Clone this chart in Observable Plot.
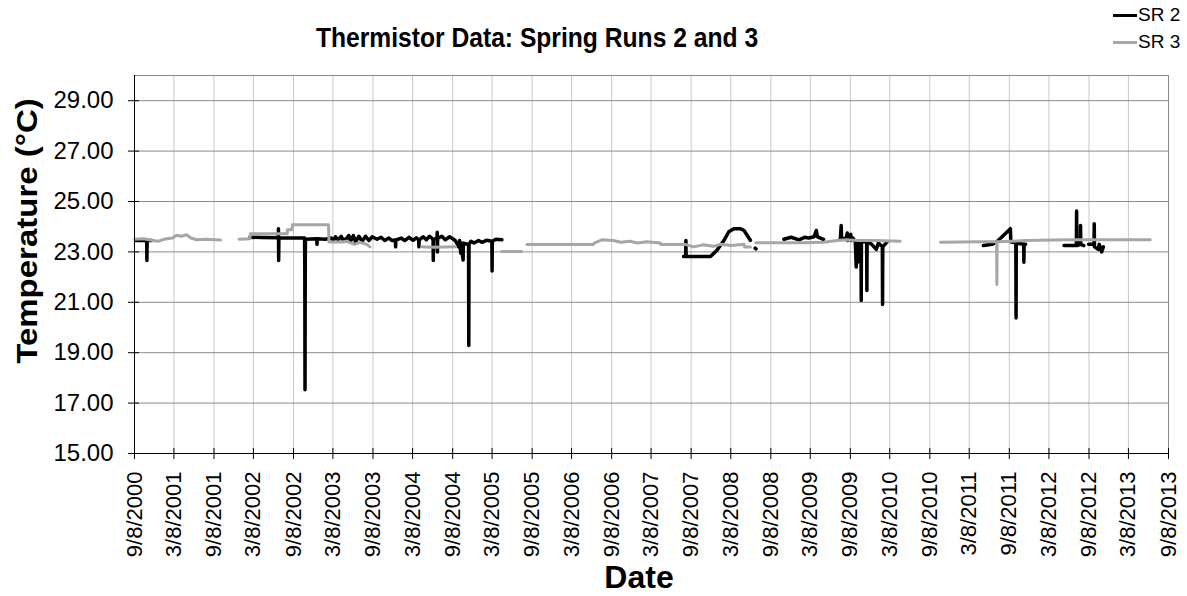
<!DOCTYPE html>
<html><head><meta charset="utf-8">
<script src="https://cdn.jsdelivr.net/npm/d3@7"></script>
<script src="https://cdn.jsdelivr.net/npm/@observablehq/plot@0.6"></script>
<style>
body{margin:0;background:#fff;font-family:"Liberation Sans",Arial,sans-serif;}
#wrap{position:relative;width:1187px;height:596px;overflow:hidden;background:#fff;}
#chart{position:absolute;left:0;top:0;}
#title{position:absolute;left:537px;top:38px;transform:translate(-50%,-50%) scaleX(0.88);font-weight:bold;font-size:28px;line-height:28px;color:#000;white-space:nowrap;}
.leg{position:absolute;left:1113px;height:20px;font-size:19px;line-height:20px;color:#000;white-space:nowrap;}
.leg span{display:inline-block;width:24px;height:3px;vertical-align:middle;margin-right:1px;}
#ylab{position:absolute;left:27px;top:231px;transform:translate(-50%,-50%) rotate(-90deg) scaleX(1.1);font-weight:bold;font-size:30px;white-space:nowrap;line-height:30px;}
#xlab{position:absolute;left:639px;top:577px;transform:translate(-50%,-50%);font-weight:bold;font-size:32px;white-space:nowrap;line-height:32px;}
</style></head>
<body>
<div id="wrap">
<div id="chart"></div>
<div id="title">Thermistor Data: Spring Runs 2 and 3</div>
<div class="leg" style="top:5px"><span style="background:#000"></span>SR 2</div>
<div class="leg" style="top:32px"><span style="background:#a6a6a6"></span>SR 3</div>
<div id="ylab">Temperature (°C)</div>
<div id="xlab">Date</div>
</div>
<script>
// ---- data ----
const xTickDates = ["2000-09-08","2001-03-08","2001-09-08","2002-03-08","2002-09-08","2003-03-08","2003-09-08","2004-03-08","2004-09-08","2005-03-08","2005-09-08","2006-03-08","2006-09-08","2007-03-08","2007-09-08","2008-03-08","2008-09-08","2009-03-08","2009-09-08","2010-03-08","2010-09-08","2011-03-08","2011-09-08","2012-03-08","2012-09-08","2013-03-08","2013-09-08"];
const yTicks = [15,17,19,21,23,25,27,29];
const yMax = 30;

const sr2Dates = [
"2000-09-13","2000-11-03","2000-11-04","2000-11-05","2000-11-28","2001-06-01",
"2002-02-20","2002-04-15","2002-06-30","2002-07-01","2002-07-02","2002-07-03","2002-09-15","2002-10-29","2002-10-30","2002-10-31","2002-11-01","2002-11-02",
"2002-12-24","2002-12-25","2002-12-26","2003-02-01","2003-03-01","2003-03-10","2003-03-20","2003-04-01","2003-04-15","2003-04-25",
"2003-05-12","2003-05-20","2003-05-28","2003-06-10","2003-06-20","2003-07-05","2003-07-20","2003-08-05","2003-08-20","2003-09-05","2003-09-27",
"2003-10-15","2003-11-01","2003-11-20","2003-12-05","2003-12-20","2003-12-21","2003-12-22",
"2004-01-15","2004-02-01","2004-02-20","2004-03-10","2004-03-25","2004-04-05","2004-04-06","2004-04-07","2004-04-25","2004-05-10","2004-05-25",
"2004-06-10","2004-06-11","2004-06-12","2004-06-28","2004-06-29","2004-06-30","2004-07-01","2004-07-20","2004-08-05","2004-08-25",
"2004-09-20","2004-09-27","2004-10-05","2004-10-10","2004-10-15","2004-10-16","2004-10-26","2004-10-27","2004-11-20","2004-11-21","2004-11-22","2004-12-01","2004-12-15","2005-01-05","2005-01-20","2005-02-10",
"2005-03-07","2005-03-08","2005-03-09","2005-03-25","2005-04-22","2006-01-01",
"2007-08-04","2007-08-14","2007-08-15","2007-08-16","2007-12-06","2008-01-04","2008-02-06","2008-02-28","2008-03-22","2008-04-20","2008-05-08","2008-06-06","2008-06-15",
"2008-06-28","2008-07-02","2008-08-01",
"2008-11-07","2008-12-10","2009-01-15","2009-02-10","2009-03-01","2009-03-25","2009-04-05","2009-04-10","2009-05-08","2009-06-15",
"2009-07-24","2009-07-28","2009-07-30","2009-08-20","2009-08-25","2009-08-27","2009-09-10","2009-09-12","2009-09-20","2009-10-01","2009-10-05","2009-10-08","2009-10-12","2009-10-20",
"2009-10-27","2009-10-28","2009-10-29","2009-11-22","2009-11-23","2009-11-24","2009-12-15","2010-01-05","2010-01-15","2010-02-02","2010-02-03","2010-02-04","2010-02-24","2010-06-01",
"2011-05-12","2011-06-20","2011-07-13","2011-09-13","2011-09-15","2011-10-08","2011-10-09","2011-10-10","2011-11-13","2011-11-14","2011-11-15","2011-11-22","2012-02-01",
"2012-05-16","2012-07-12","2012-07-13","2012-07-14","2012-07-30","2012-07-31","2012-08-01","2012-08-15","2012-08-25",
"2012-09-06","2012-10-01","2012-10-02","2012-10-03","2012-10-20","2012-10-25","2012-11-05","2012-11-13"
];
const sr2Temps = [
23.45,23.45,22.66,23.45,23.45,null,
23.58,23.57,23.56,23.92,22.66,23.56,23.55,23.55,22.33,17.53,22.4,23.5,
23.52,23.3,23.52,23.5,23.55,23.45,23.6,23.48,23.62,23.45,
23.55,23.65,23.42,23.65,23.4,23.62,23.42,23.62,23.45,23.6,23.5,
23.58,23.45,23.55,23.45,23.47,23.2,23.47,
23.55,23.45,23.58,23.46,23.56,23.47,23.2,23.47,23.6,23.48,23.62,
23.5,22.66,23.5,23.55,23.78,23.0,23.55,23.62,23.48,23.6,
23.45,23.35,23.2,23.45,22.95,23.35,22.68,23.35,23.3,19.29,23.3,23.42,23.35,23.45,23.38,23.46,
23.42,22.24,23.42,23.5,23.48,null,
22.82,22.82,23.45,22.82,22.82,23.06,23.46,23.8,23.92,23.92,23.85,23.46,null,
23.15,23.12,null,
23.5,23.58,23.48,23.58,23.55,23.6,23.85,23.6,23.5,null,
23.5,24.05,23.5,23.55,23.75,23.45,23.7,23.45,23.55,23.4,22.4,23.4,22.6,23.4,
23.4,21.07,23.4,23.4,21.47,23.4,23.3,23.1,23.35,23.2,20.91,23.2,23.4,null,
23.25,23.3,23.4,23.92,23.4,23.35,20.38,23.35,23.3,22.59,23.3,23.3,null,
23.25,23.25,24.62,23.25,23.3,24.05,23.3,23.25,null,
23.3,23.3,24.12,23.2,23.1,23.3,23.0,23.2
];

const sr3Dates = [
"2000-09-10","2000-10-20","2000-12-01","2000-12-25","2001-01-20","2001-03-01","2001-03-20","2001-04-10","2001-05-05","2001-05-25","2001-06-20","2001-08-01","2001-10-08","2001-11-15",
"2002-01-01","2002-02-20","2002-02-22","2002-08-10","2002-08-12","2002-09-01","2002-09-03","2003-02-16","2003-02-18","2003-04-20","2003-05-10","2003-06-15","2003-07-10","2003-08-10","2003-08-25","2003-12-01",
"2004-04-20","2004-06-01","2004-09-20","2005-01-01",
"2005-04-20","2005-07-22","2005-08-01",
"2005-08-15","2006-06-15","2006-06-20","2006-07-25","2006-09-15","2006-10-20","2006-12-01","2007-01-05","2007-02-15","2007-04-20","2007-04-22","2007-08-15","2007-09-20","2007-11-01","2007-12-20","2008-01-20","2008-03-10","2008-05-08","2008-05-10","2008-06-06","2008-06-20",
"2008-07-01","2009-02-01","2009-05-08","2009-07-10","2009-08-20","2009-10-15","2010-01-01","2010-04-25","2010-07-01",
"2010-10-27","2011-05-01","2011-07-12","2011-07-13","2011-07-14","2011-11-20","2012-06-01","2013-01-01","2013-06-16"
];
const sr3Temps = [
23.50,23.52,23.45,23.42,23.50,23.55,23.66,23.62,23.68,23.55,23.48,23.50,23.47,null,
23.50,23.52,23.72,23.72,23.88,23.88,24.08,24.08,23.39,23.39,23.42,23.30,23.38,23.30,23.20,null,
23.20,23.18,23.20,null,
23.02,23.02,null,
23.29,23.29,23.35,23.48,23.45,23.38,23.42,23.35,23.40,23.35,23.29,23.29,23.20,23.28,23.22,23.30,23.25,23.30,23.19,23.19,null,
23.36,23.36,23.38,23.45,23.48,23.45,23.45,23.42,null,
23.38,23.40,23.40,21.71,23.40,23.45,23.48,23.48,23.48
];

// ---- build ----
const parse = d3.utcParse("%Y-%m-%d");
const sr2 = sr2Dates.map((d,i)=>({date:parse(d), temp:sr2Temps[i]}));
const sr3 = sr3Dates.map((d,i)=>({date:parse(d), temp:sr3Temps[i]}));
const xt = xTickDates.map(parse);
const x0 = xt[0], x1 = xt[xt.length-1];
const innerTickEnd = d3.utcDay.offset(x0, 23);

const chart = Plot.plot({
  width:1187, height:596,
  marginLeft:134, marginRight:19, marginTop:75, marginBottom:143,
  style:{fontFamily:"'Liberation Sans', Arial, sans-serif", fontSize:"24px", color:"#000", background:"transparent"},
  x:{type:"utc", domain:[x0,x1]},
  y:{domain:[15,yMax]},
  marks:[
    Plot.gridX(xt, {stroke:"#c8c8c8", strokeOpacity:1}),
    Plot.gridY(yTicks.concat([yMax]), {stroke:"#8c8c8c", strokeOpacity:1}),
    Plot.ruleX([x1], {stroke:"#8c8c8c"}),
    Plot.line(sr2, {x:"date", y:"temp", stroke:"#000", strokeWidth:3.5, strokeLinejoin:"round", strokeLinecap:"round"}),
    Plot.line(sr3, {x:"date", y:"temp", stroke:"#a6a6a6", strokeWidth:3, strokeLinejoin:"round", strokeLinecap:"round"}),
    Plot.ruleX(xt, {y1:15, y2:15.2, stroke:"#000"}),
    Plot.ruleY(yTicks, {x1:x0, x2:innerTickEnd, stroke:"#000"}),
    Plot.axisX(xt, {tickFormat:d3.utcFormat("%-m/%-d/%Y"), tickRotate:-90, tickSize:6, tickPadding:12, fontSize:22, label:null, stroke:"#000"}),
    Plot.axisY(yTicks, {tickFormat:d=>d.toFixed(2), tickSize:6, tickPadding:15, label:null, stroke:"#000"}),
    Plot.ruleX([x0], {stroke:"#000"}),
    Plot.ruleY([15], {stroke:"#000"})
  ]
});
document.getElementById("chart").appendChild(chart);
</script>
</body></html>
